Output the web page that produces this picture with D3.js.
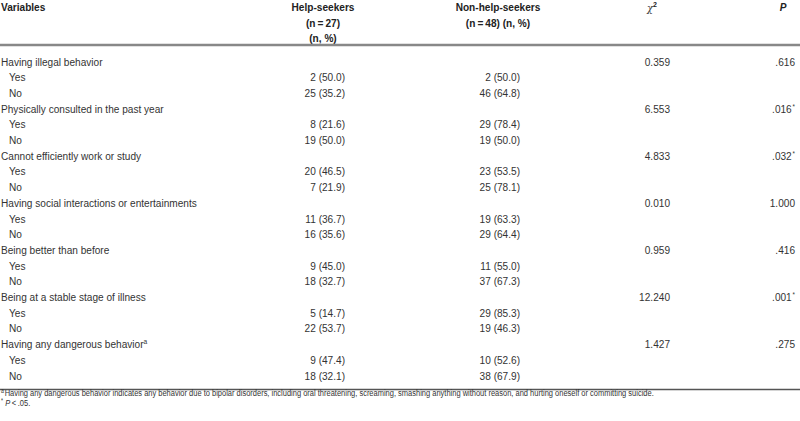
<!DOCTYPE html>
<html>
<head>
<meta charset="utf-8">
<script src="https://cdn.jsdelivr.net/npm/d3@7"></script>
<style>
  body { margin: 0; background: #fff; }
  text { font-family: "Liberation Sans", Arial, sans-serif; fill: #333; }
  .hd { font-weight: bold; fill: #222; }
</style>
</head>
<body>
<div id="table"></div>
<script>
// table content
var variables = [
  "Having illegal behavior",
  "Physically consulted in the past year",
  "Cannot efficiently work or study",
  "Having social interactions or entertainments",
  "Being better than before",
  "Being at a stable stage of illness",
  "Having any dangerous behavior"
];
var helpYes = [[2, 50.0], [8, 21.6], [20, 46.5], [11, 36.7], [9, 45.0], [5, 14.7], [9, 47.4]];
var helpNo = [[25, 35.2], [19, 50.0], [7, 21.9], [16, 35.6], [18, 32.7], [22, 53.7], [18, 32.1]];
var nonHelpYes = [[2, 50.0], [29, 78.4], [23, 53.5], [19, 63.3], [11, 55.0], [29, 85.3], [10, 52.6]];
var nonHelpNo = [[46, 64.8], [19, 50.0], [25, 78.1], [29, 64.4], [37, 67.3], [19, 46.3], [38, 67.9]];
var chiSquare = [0.359, 6.553, 4.833, 0.010, 0.959, 12.240, 1.427];
var pValues = [0.616, 0.016, 0.032, 1.000, 0.416, 0.001, 0.275];
var footnoteA = "Having any dangerous behavior indicates any behavior due to bipolar disorders, including oral threatening, screaming, smashing anything without reason, and hurting oneself or committing suicide.";

var width = 800, height = 421;
var fs = 11.5, footFs = 9.5;

var svg = d3.select("#table").append("svg")
    .attr("width", width)
    .attr("height", height);

// no condensed face installed: measure a long label and squeeze to the target width
function measure(txt, size) {
    var t = svg.append("text").style("font-size", size + "px").text(txt);
    var w = t.node().getComputedTextLength();
    t.remove();
    return w;
}
var squeeze = 196 / measure(variables[3], fs);
var footSqueeze = 650 / measure(footnoteA, footFs);

// place a text at x, squeezed horizontally around its anchor
function at(x, yy, k) {
    return "translate(" + x + "," + (yy || 0) + ") scale(" + (k || squeeze) + ",1)";
}

// column anchors
var col = {label: 1, indent: 9, help: 345, nonHelp: 520, chi: 670, p: 795};

// build rows: group header + Yes + No
var rows = [];
variables.forEach(function (v, i) {
    rows.push({type: "group", label: v, chi: chiSquare[i], p: pValues[i], sup: i === variables.length - 1});
    rows.push({type: "sub", label: "Yes", help: helpYes[i], nonHelp: nonHelpYes[i]});
    rows.push({type: "sub", label: "No", help: helpNo[i], nonHelp: nonHelpNo[i]});
});

var y = d3.scaleLinear()
    .domain([0, rows.length - 1])
    .range([61.5, 375.5]);

var cell = function (d) { return d[0] + " (" + d3.format(".1f")(d[1]) + ")"; };
var fmtP = function (p) { return p >= 1 ? d3.format(".3f")(p) : d3.format(".3f")(p).replace(/^0/, ""); };

// header
var head = svg.append("g").style("font-size", fs + "px");
head.append("text").attr("class", "hd").attr("transform", at(col.label, 7)).attr("dy", "0.35em").text("Variables");
["Help-seekers", "(n\u2009=\u200927)", "(n, %)"].forEach(function (t, i) {
    head.append("text").attr("class", "hd").attr("transform", at(323, 7 + i * 15.5))
        .attr("dy", "0.35em").attr("text-anchor", "middle").text(t);
});
["Non-help-seekers", "(n\u2009=\u200948) (n, %)"].forEach(function (t, i) {
    head.append("text").attr("class", "hd").attr("transform", at(498, 7 + i * 15.5))
        .attr("dy", "0.35em").attr("text-anchor", "middle").text(t);
});
var chiHead = head.append("text").attr("transform", at(652, 8)).attr("dy", "0.35em").attr("text-anchor", "middle");
chiHead.append("tspan").style("font-style", "italic").style("font-family", "DejaVu Serif").style("font-size", "11px").text("\u03c7");
chiHead.append("tspan").attr("class", "hd").style("font-size", "8px").attr("dy", "-5").text("2");
head.append("text").attr("class", "hd").attr("transform", at(783, 7)).attr("dy", "0.35em")
    .attr("text-anchor", "middle").style("font-style", "italic").text("P");

// rules
svg.append("line").attr("x1", 0).attr("x2", width).attr("y1", 45).attr("y2", 45)
    .attr("stroke", "#888").attr("stroke-width", 2.5);
svg.append("line").attr("x1", 0).attr("x2", width).attr("y1", 389.5).attr("y2", 389.5)
    .attr("stroke", "#555").attr("stroke-width", 1.5);

// body rows
var body = svg.append("g").style("font-size", fs + "px");
var row = body.selectAll("g.row").data(rows).enter().append("g")
    .attr("class", "row")
    .attr("transform", function (d, i) { return "translate(0," + y(i) + ")"; });

var lab = row.append("text")
    .attr("transform", function (d) { return at(d.type === "group" ? col.label : col.indent); })
    .attr("dy", "0.35em")
    .text(function (d) { return d.label; });
lab.filter(function (d) { return d.sup; }).append("tspan")
    .attr("dy", "-4").style("font-size", "7.5px").text("a");

row.filter(function (d) { return d.type === "sub"; }).append("text")
    .attr("transform", at(col.help)).attr("dy", "0.35em").attr("text-anchor", "end")
    .text(function (d) { return cell(d.help); });
row.filter(function (d) { return d.type === "sub"; }).append("text")
    .attr("transform", at(col.nonHelp)).attr("dy", "0.35em").attr("text-anchor", "end")
    .text(function (d) { return cell(d.nonHelp); });

var grp = row.filter(function (d) { return d.type === "group"; });
grp.append("text")
    .attr("transform", at(col.chi)).attr("dy", "0.35em").attr("text-anchor", "end")
    .text(function (d) { return d3.format(".3f")(d.chi); });
var pt = grp.append("text")
    .attr("transform", at(col.p)).attr("dy", "0.35em").attr("text-anchor", "end");
pt.append("tspan").text(function (d) { return fmtP(d.p); });
pt.filter(function (d) { return d.p < 0.05; }).append("tspan")
    .attr("dy", "-4").attr("dx", "1").style("font-size", "7px").text("*");

// footnotes
var foot = svg.append("g").style("font-size", footFs + "px");
var f1 = foot.append("text").attr("transform", at(1, 396, footSqueeze)).attr("dy", "0.35em");
f1.append("tspan").style("font-size", "6.5px").attr("dy", "-3").text("a");
f1.append("tspan").attr("dy", "3").attr("dx", "1").text(footnoteA);
var f2 = foot.append("text").attr("transform", at(1, 406, footSqueeze)).attr("dy", "0.35em");
f2.append("tspan").style("font-size", "6.5px").attr("dy", "-3").text("*");
f2.append("tspan").attr("dy", "3").attr("dx", "3").style("font-style", "italic").text("P");
f2.append("tspan").text("\u2009<\u2009.05.");
</script>
</body>
</html>
